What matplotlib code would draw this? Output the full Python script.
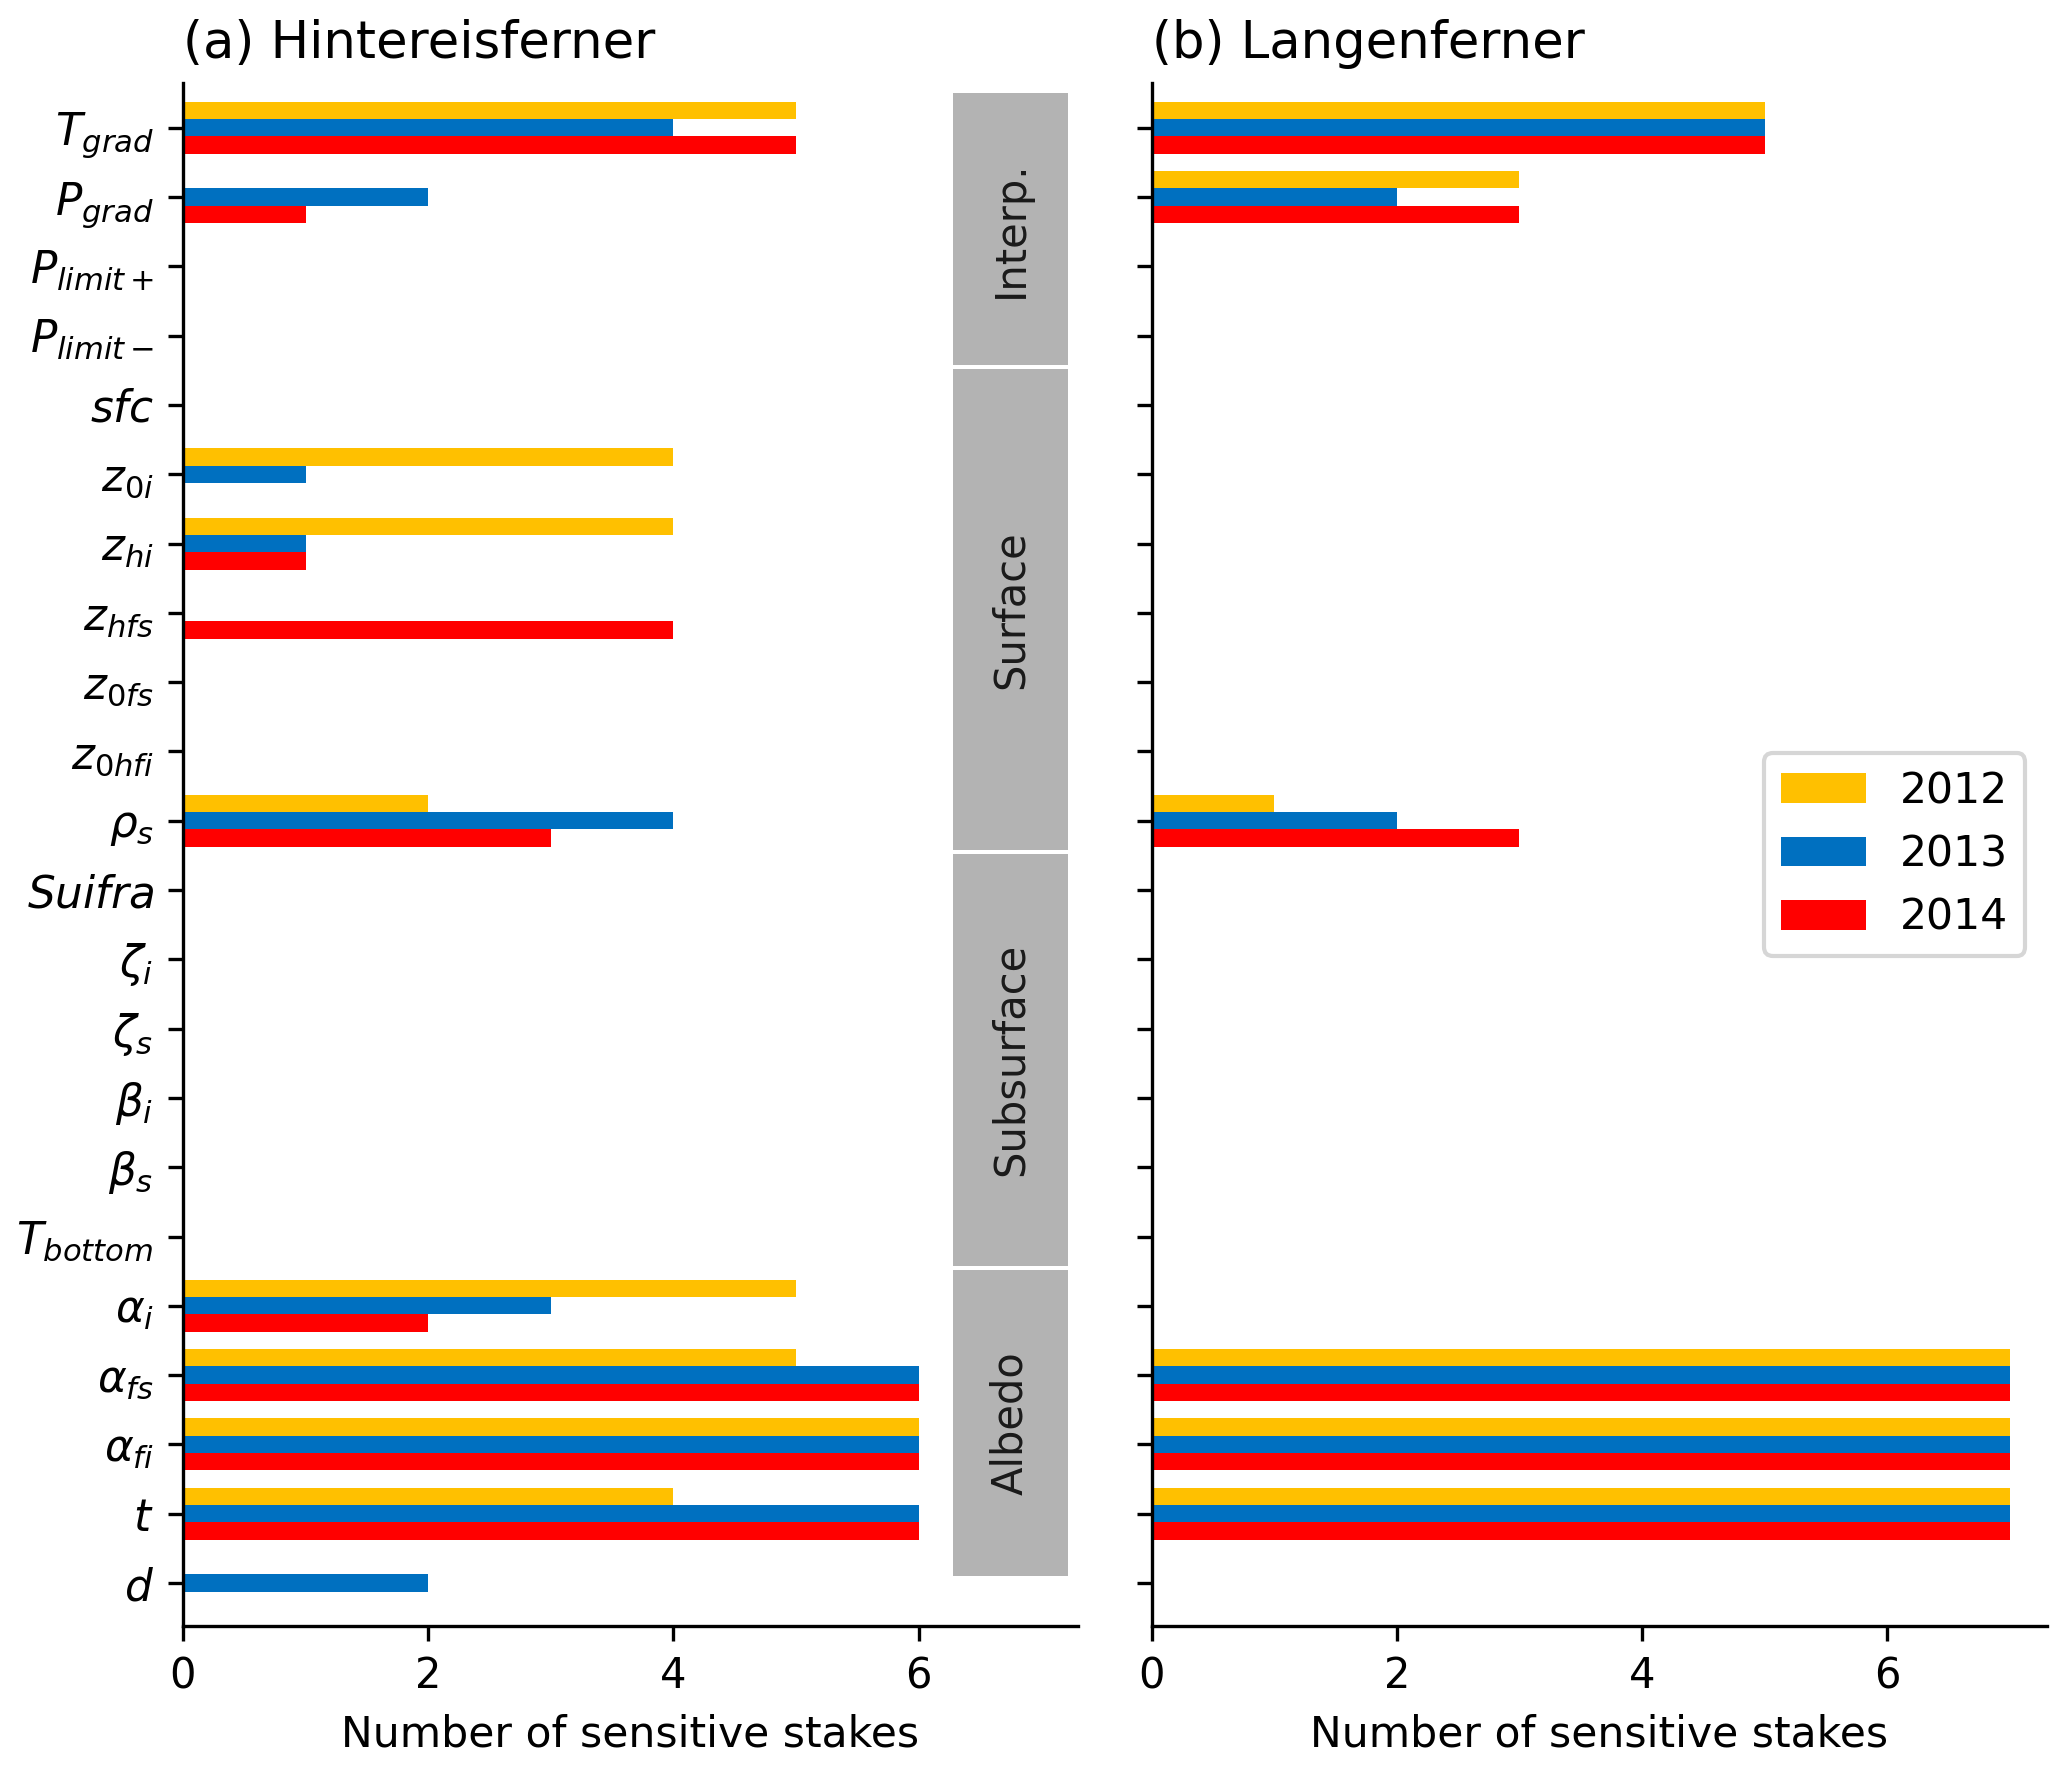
import matplotlib
matplotlib.use("Agg")
import matplotlib.pyplot as plt
import numpy as np
from matplotlib.patches import Rectangle

# ---- data -------------------------------------------------------------
params = [r"$T_{grad}$", r"$P_{grad}$", r"$P_{limit+}$", r"$P_{limit-}$", r"$sfc$",
          r"$z_{0i}$", r"$z_{hi}$", r"$z_{hfs}$", r"$z_{0fs}$", r"$z_{0hfi}$",
          r"$\rho_s$", r"$Suifra$", r"$\zeta_i$", r"$\zeta_s$", r"$\beta_i$",
          r"$\beta_s$", r"$T_{bottom}$", r"$\alpha_i$", r"$\alpha_{fs}$",
          r"$\alpha_{fi}$", r"$t$", r"$d$"]
years = ["2012", "2013", "2014"]

hef_2012 = [5, 0, 0, 0, 0, 4, 4, 0, 0, 0, 2, 0, 0, 0, 0, 0, 0, 5, 5, 6, 4, 0]
hef_2013 = [4, 2, 0, 0, 0, 1, 1, 0, 0, 0, 4, 0, 0, 0, 0, 0, 0, 3, 6, 6, 6, 2]
hef_2014 = [5, 1, 0, 0, 0, 0, 1, 4, 0, 0, 3, 0, 0, 0, 0, 0, 0, 2, 6, 6, 6, 0]

lf_2012 = [5, 3, 0, 0, 0, 0, 0, 0, 0, 0, 1, 0, 0, 0, 0, 0, 0, 0, 7, 7, 7, 0]
lf_2013 = [5, 2, 0, 0, 0, 0, 0, 0, 0, 0, 2, 0, 0, 0, 0, 0, 0, 0, 7, 7, 7, 0]
lf_2014 = [5, 3, 0, 0, 0, 0, 0, 0, 0, 0, 3, 0, 0, 0, 0, 0, 0, 0, 7, 7, 7, 0]

groups = ["Interp.", "Surface", "Subsurface", "Albedo"]
group_edges = [-0.53, 3.45, 10.45, 16.45, 20.93]

COLORS = ["#FFC000", "#0070C0", "#FF0000"]
BOX_GREY = "#B3B3B3"

plt.rcParams["font.size"] = 10


def draw_panel(ax, series, title):
    y = np.arange(len(params))
    h = 0.25
    for k, (vals, col, lab) in enumerate(zip(series, COLORS, years)):
        ax.barh(y + (k - 1) * h, vals, height=h, color=col, label=lab,
                linewidth=0)
    ax.set_title(title, loc="left", fontsize=12.3)
    ax.set_xlabel("Number of sensitive stakes", fontsize=10.2)
    ax.set_xlim(0, 7.3)
    ax.set_ylim(21.62, -0.65)
    ax.set_xticks([0, 2, 4, 6])
    ax.spines["top"].set_visible(False)
    ax.spines["right"].set_visible(False)


fig = plt.figure(figsize=(2067 / 300, 1767 / 300), dpi=300)
axA = fig.add_axes([0.0885, 0.0798, 0.4330, 0.8734])
axB = fig.add_axes([0.5571, 0.0798, 0.4330, 0.8734])

draw_panel(axA, [hef_2012, hef_2013, hef_2014], "(a) Hintereisferner")
draw_panel(axB, [lf_2012, lf_2013, lf_2014], "(b) Langenferner")

axA.set_yticks(np.arange(len(params)))
axA.set_yticklabels(params, fontsize=10.5)
axB.set_yticks(np.arange(len(params)))
axB.set_yticklabels([])

# parameter group boxes on the right of panel (a)
x0, x1 = 6.28, 7.22
for name, top, bot in zip(groups, group_edges[:-1], group_edges[1:]):
    t, b = top + 0.03, bot - 0.03
    axA.add_patch(Rectangle((x0, t), x1 - x0, b - t, facecolor=BOX_GREY,
                            edgecolor="none", zorder=0))
    axA.text((x0 + x1) / 2, (t + b) / 2, name, rotation=90, ha="center",
             va="center", fontsize=10, color="#1a1a1a")

axB.legend(loc="center right", fontsize=10.2)

fig.savefig("out.png", dpi=300, facecolor="white")
